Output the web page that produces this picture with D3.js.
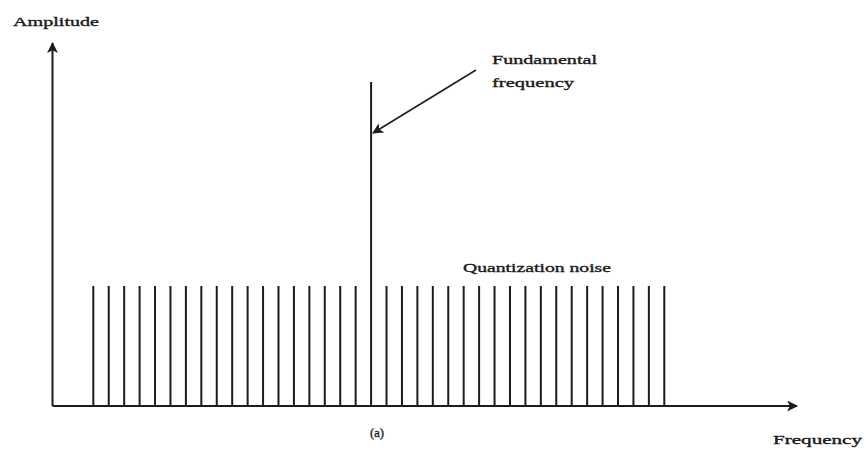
<!DOCTYPE html>
<html>
<head>
<meta charset="utf-8">
<script src="https://cdn.jsdelivr.net/npm/d3@7"></script>
<style>
  html, body { margin: 0; padding: 0; background: #fff; }
  svg text { font-family: "Liberation Serif", "DejaVu Serif", serif; fill: #1a1a1a; stroke: #1a1a1a; stroke-width: 0.35px; }
</style>
</head>
<body>
<svg id="chart" width="867" height="454"></svg>
<script>
// Spectrum components: harmonic index and relative amplitude
const bins = d3.range(1, 39);                       // 38 frequency bins
const noiseLevel = 1.0;                              // flat quantization noise floor
const fundamentalBin = 19;                           // bin carrying the signal
const fundamentalLevel = 2.7;                        // signal amplitude
const labels = {
  yTitle: "Amplitude",
  xTitle: "Frequency",
  caption: "(a)",
  noise: "Quantization noise",
  fundamental: ["Fundamental", "frequency"]
};

const svg = d3.select("#chart");
const ink = "#1c1c1c";

const x = d3.scaleLinear().domain([1, 38]).range([93.3, 664.3]);
const y = d3.scaleLinear().domain([0, 1]).range([406, 286]);

const originX = 52.5, originY = y(0);

// arrowhead marker
svg.append("defs").append("marker")
  .attr("id", "head")
  .attr("viewBox", "0 0 10 10")
  .attr("refX", 9).attr("refY", 5)
  .attr("markerWidth", 14).attr("markerHeight", 11)
  .attr("markerUnits", "userSpaceOnUse")
  .attr("orient", "auto")
  .append("path").attr("d", "M0,0 L10,5 L0,10 L2.5,5 Z").attr("fill", ink);

// axes
svg.append("line")
  .attr("x1", originX).attr("y1", originY).attr("x2", originX).attr("y2", 43)
  .attr("stroke", ink).attr("stroke-width", 2).attr("marker-end", "url(#head)");
svg.append("line")
  .attr("x1", originX).attr("y1", originY).attr("x2", 797).attr("y2", originY)
  .attr("stroke", ink).attr("stroke-width", 2).attr("marker-end", "url(#head)");

// noise floor components and the fundamental
const amp = b => b === fundamentalBin ? fundamentalLevel : noiseLevel;
svg.append("g").selectAll("line")
  .data(bins)
  .join("line")
  .attr("x1", d => x(d)).attr("x2", d => x(d))
  .attr("y1", y(0)).attr("y2", d => y(amp(d)))
  .attr("stroke", ink).attr("stroke-width", 2);

// pointer to the fundamental
svg.append("line")
  .attr("x1", 476).attr("y1", 70)
  .attr("x2", x(fundamentalBin) + 2).attr("y2", 133)
  .attr("stroke", ink).attr("stroke-width", 1.5).attr("marker-end", "url(#head)");

// text
function label(t, px, py, w, size = 13) {
  svg.append("text").attr("x", px).attr("y", py)
    .attr("font-size", size)
    .attr("textLength", w).attr("lengthAdjust", "spacingAndGlyphs")
    .text(t);
}
label(labels.yTitle, 13, 26, 86);
label(labels.xTitle, 773, 444, 89);
label(labels.fundamental[0], 492, 64, 105);
label(labels.fundamental[1], 492, 87, 82);
label(labels.noise, 463, 272, 148);
label(labels.caption, 370, 437, 14, 13);
</script>
</body>
</html>
